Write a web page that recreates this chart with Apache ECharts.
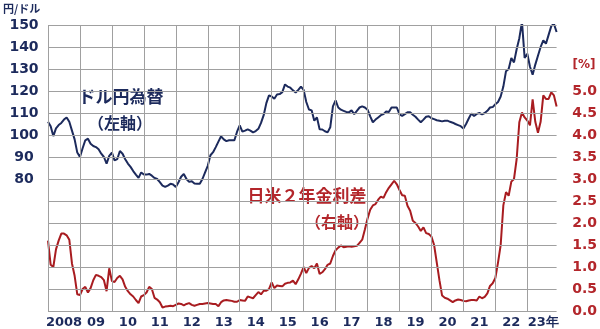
<!DOCTYPE html>
<html><head><meta charset="utf-8">
<script src="https://cdn.jsdelivr.net/npm/echarts@6/dist/echarts.min.js"></script>
<style>html,body{margin:0;padding:0;background:#fff}#c{width:600px;height:329px}</style>
</head><body><div id="c"></div>
<script>
// Monthly data, Jan 2008 – Dec 2023
const startYear = 2008;
const usdjpy = [
  106, 104, 99.5, 103, 104.5, 105.5, 107, 108, 106, 102, 98, 92,
  90, 94, 97.6, 98.3, 96, 95, 94.5, 93.5, 91.5, 90, 87, 90.5,
  92, 88.5, 89, 92.7, 91.5, 89, 87, 85.5, 83.6, 82, 80.5, 83,
  82, 82, 82.3, 81.5, 80.5, 80, 78.6, 77, 76.4, 77, 77.8, 77.5,
  76.3, 78.5, 81, 82.3, 80, 78.7, 79, 78, 77.8, 77.8, 80, 83,
  86, 90.8, 92.2, 94.5, 97, 99.4, 98, 97.2, 97.6, 97.6, 97.6, 101.5,
  104.4, 101.5, 102, 102.6, 102, 101.2, 101.8, 102.8, 105.5, 109, 114.5, 118,
  117.5, 116.5, 118.4, 118.6, 119.5, 123, 122, 121.5, 120.3, 119.3, 120.5, 122,
  120.5, 115, 111.6, 111.2, 106.5, 108, 102.6, 102.5, 101.7, 101.2, 103.5, 113,
  115.7, 112.5, 111.5, 111, 110.5, 110.3, 111.2, 109.5, 111, 112.5, 113, 112.5,
  111.5, 108.5, 105.8, 107, 108, 109, 109.5, 110.7, 110.5, 112.5, 112.5, 112.5,
  109.4, 108.7, 109.5, 110.3, 110.3, 109.2, 108.3, 107, 105.8, 107, 108.3, 108.5,
  107.6, 107.2, 106.7, 106.5, 106.2, 106.5, 106.5, 106, 105.6, 105, 104.5, 104,
  103, 105, 107.5, 109.8, 108.6, 109.6, 110, 109.4, 110, 111, 112.5, 112.7,
  114, 115, 117.5, 122, 129, 130, 135, 133, 139, 144, 151.4, 135,
  136.9, 131, 127.4, 132, 136, 140, 143, 141.5, 145.5, 149.5, 150.5, 146.8
];
const spread = [
  1.6, 1.05, 1.0, 1.4, 1.6, 1.76, 1.76, 1.72, 1.62, 1.08, 0.8, 0.38,
  0.36, 0.5, 0.55, 0.42, 0.52, 0.7, 0.82, 0.8, 0.77, 0.7, 0.45, 0.97,
  0.68, 0.66, 0.75, 0.8, 0.72, 0.55, 0.45, 0.38, 0.33, 0.25, 0.18, 0.33,
  0.36, 0.42, 0.55, 0.5, 0.3, 0.26, 0.2, 0.08, 0.1, 0.11, 0.12, 0.11,
  0.14, 0.17, 0.16, 0.13, 0.16, 0.18, 0.14, 0.12, 0.14, 0.16, 0.16, 0.17,
  0.18, 0.17, 0.16, 0.16, 0.11, 0.2, 0.24, 0.25, 0.24, 0.23, 0.21, 0.21,
  0.25, 0.24, 0.23, 0.33, 0.31, 0.29, 0.36, 0.43, 0.38, 0.46, 0.46, 0.5,
  0.65, 0.52, 0.58, 0.57, 0.56, 0.62, 0.64, 0.65, 0.69, 0.61, 0.72, 0.85,
  1.0, 0.86, 0.98, 1.02, 0.97, 1.08, 0.84, 0.88, 0.95, 1.05, 1.08, 1.25,
  1.38, 1.44, 1.49, 1.45, 1.46, 1.47, 1.46, 1.47, 1.48, 1.55, 1.62, 1.85,
  2.1, 2.3, 2.4, 2.43, 2.53, 2.6, 2.57, 2.7, 2.8, 2.88, 2.96, 2.88,
  2.75, 2.63, 2.62, 2.39, 2.28, 2.05, 2.0, 1.92, 1.82, 1.9, 1.77, 1.75,
  1.69, 1.5, 1.1, 0.7, 0.35, 0.3, 0.28, 0.24, 0.2, 0.24, 0.26, 0.25,
  0.23, 0.22, 0.24, 0.25, 0.25, 0.24, 0.33, 0.29, 0.32, 0.4, 0.57, 0.63,
  0.75, 1.1, 1.5, 2.4, 2.7, 2.62, 2.94, 3.0, 3.45, 4.29, 4.51, 4.4,
  4.33, 4.22, 4.81, 4.3, 4.05, 4.3, 4.9, 4.82, 4.82, 4.97, 4.9, 4.65
];
const yearLabels = {2008:'2008',2009:'09',2010:'10',2011:'11',2012:'12',2013:'13',2014:'14',2015:'15',
  2016:'16',2017:'17',2018:'18',2019:'19',2020:'20',2021:'21',2022:'22',2023:'23年'};
const leftTicksShown = [80, 90, 100, 110, 120, 130, 140, 150];
const rightTicksShown = [0, 0.5, 1, 1.5, 2, 2.5, 3, 3.5, 4, 4.5, 5];
// gridline values (left-axis scale and year boundaries)
const gridYValues = [20, 30, 40, 50, 60, 70, 80, 90, 100, 110, 120, 130, 140, 150];
const gridXYears = [2008, 2009, 2010, 2011, 2012, 2013, 2014, 2015, 2016, 2017, 2018, 2019, 2020, 2021, 2022, 2023];

const xOf = i => startYear + i / 12;
const blueData = usdjpy.map((v, i) => [xOf(i), v]);
const redData = spread.map((v, i) => [xOf(i), v]);
const xMax = xOf(usdjpy.length - 1);

const NAVY = '#1c2a5c', RED = '#a81c20', RED_TXT = '#b3262b', GRID = '#a0a0a0';
const numFont = '"DejaVu Sans", Verdana, sans-serif';
const jpFont = '"Noto Sans CJK JP", sans-serif';
const hiddenRich = {h: {color: 'rgba(0,0,0,0)'}};
const noLine = {axisLine: {show: false}, axisTick: {show: false}, splitLine: {show: false}};

const gridMarks = gridYValues.map(v => ({yAxis: v}))
  .concat(gridXYears.map(v => ({xAxis: v})))
  .concat([{xAxis: xMax}]);

const chart = echarts.init(document.getElementById('c'), null, {renderer: 'canvas'});
chart.setOption({
  animation: false,
  grid: {left: 48, right: 42, top: 25, bottom: 16},
  xAxis: {
    type: 'value', min: 2008, max: xMax, interval: 1, ...noLine,
    axisLabel: {
      margin: 5, padding: [0, 0, 0, 32],
      color: NAVY, fontFamily: numFont, fontWeight: 'bold', fontSize: 13,
      rich: hiddenRich,
      formatter: v => (Number.isInteger(v) && yearLabels[v]) ? yearLabels[v] : '{h|.}'
    }
  },
  yAxis: [
    {
      type: 'value', min: 20, max: 150, interval: 10, position: 'left', ...noLine,
      axisLabel: {
        margin: 24, align: 'center', color: NAVY, fontFamily: numFont, fontWeight: 'bold', fontSize: 14,
        rich: hiddenRich,
        formatter: v => leftTicksShown.includes(v) ? String(v) : '{h|' + v + '}'
      }
    },
    {
      type: 'value', min: 0, max: 6.5, interval: 0.5, position: 'right', ...noLine,
      axisLabel: {
        margin: 28, align: 'center', color: RED_TXT, fontFamily: numFont, fontWeight: 'bold', fontSize: 14,
        rich: hiddenRich,
        formatter: v => rightTicksShown.some(t => Math.abs(t - v) < 1e-6) ? v.toFixed(1) : '{h|' + v.toFixed(1) + '}'
      }
    }
  ],
  series: [
    { // carrier for gridlines, drawn beneath the data lines
      type: 'line', name: 'grid', yAxisIndex: 0, data: blueData, symbol: 'none', silent: true, z: 1,
      lineStyle: {color: 'rgba(255,255,255,0)', width: 1},
      markLine: {
        silent: true, symbol: ['none', 'none'], label: {show: false}, animation: false,
        emphasis: {disabled: true},
        lineStyle: {color: GRID, width: 1, type: 'solid', opacity: 1},
        data: gridMarks
      }
    },
    {type: 'line', name: 'ドル円為替', yAxisIndex: 0, data: blueData, symbol: 'none',
     lineStyle: {color: NAVY, width: 2}, z: 3},
    {type: 'line', name: '日米２年金利差', yAxisIndex: 1, data: redData, symbol: 'none',
     lineStyle: {color: RED, width: 2}, z: 2}
  ],
  graphic: [
    {type: 'text', left: 3, top: 3, style: {text: '円/ドル', fill: NAVY, font: 'bold 11px ' + jpFont}},
    {type: 'text', x: 584, y: 65, style: {text: '[%]', fill: RED_TXT, font: 'bold 12px ' + numFont, align: 'center', verticalAlign: 'middle'}},
    {type: 'text', x: 121, y: 97, style: {text: 'ドル円為替', fill: NAVY, font: 'bold 17px ' + jpFont, align: 'center', verticalAlign: 'middle'}},
    {type: 'text', x: 120, y: 123, style: {text: '（左軸）', fill: NAVY, font: 'bold 16px ' + jpFont, align: 'center', verticalAlign: 'middle'}},
    {type: 'text', x: 307, y: 196, style: {text: '日米２年金利差', fill: RED_TXT, font: 'bold 17px ' + jpFont, align: 'center', verticalAlign: 'middle'}},
    {type: 'text', x: 337, y: 222, style: {text: '（右軸）', fill: RED_TXT, font: 'bold 16px ' + jpFont, align: 'center', verticalAlign: 'middle'}}
  ]
});
</script>
</body></html>
